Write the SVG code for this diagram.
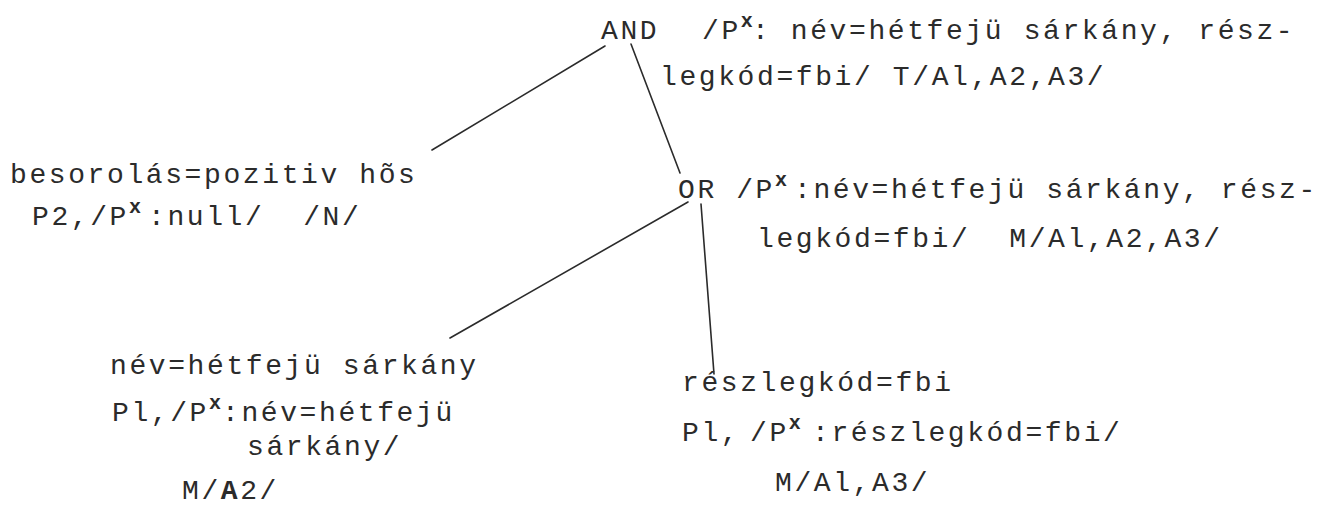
<svg xmlns="http://www.w3.org/2000/svg" width="1333" height="511" viewBox="0 0 1333 511">
  <style>
    text { font-family: "Liberation Mono", "DejaVu Sans Mono", monospace; font-size: 28px; letter-spacing: 2.6px; fill: #2b2b2b; white-space: pre; }
    .sup { font-size: 20px; font-weight: bold; letter-spacing: 0; }
    .b { font-weight: bold; }
    .edge { stroke: #2b2b2b; stroke-width: 1.6; stroke-linecap: round; fill: none; }
  </style>
  <rect width="1333" height="511" fill="#ffffff"/>

  <!-- tree edges -->
  <g id="connectors">
    <line class="edge" x1="605" y1="46" x2="432" y2="150"/>
    <line class="edge" x1="631" y1="44" x2="680" y2="173"/>
    <line class="edge" x1="688" y1="202" x2="450" y2="338"/>
    <line class="edge" x1="701" y1="204" x2="714" y2="374"/>
  </g>

  <!-- root: AND -->
  <g id="node-and">
    <text x="601" y="39">AND</text>
    <text x="702" y="39">/P<tspan class="sup" dy="-12">x</tspan><tspan x="752" dy="12">: név=hétfejü sárkány, rész-</tspan></text>
    <text x="660" y="85">legkód=fbi/ T/Al,A2,A3/</text>
  </g>

  <!-- leaf: besorolás -->
  <g id="node-besorolas">
    <text x="10" y="183">besorolás=pozitiv hõs</text>
    <text x="32" y="225">P2,/P<tspan class="sup" dy="-12">x</tspan><tspan x="148" dy="12">:null/  /N/</tspan></text>
  </g>

  <!-- inner node: OR -->
  <g id="node-or">
    <text x="678" y="198">OR /P<tspan class="sup" dy="-12">x</tspan><tspan x="794" dy="12">:név=hétfejü sárkány, rész-</tspan></text>
    <text x="757" y="247">legkód=fbi/  M/Al,A2,A3/</text>
  </g>

  <!-- leaf: név -->
  <g id="node-nev">
    <text x="110" y="374">név=hétfejü sárkány</text>
    <text x="112" y="421">Pl,/P<tspan class="sup" dy="-12">x</tspan><tspan x="222" dy="12">:név=hétfejü</tspan></text>
    <text x="247" y="455">sárkány/</text>
    <text x="182" y="499">M/<tspan class="b">A</tspan>2/</text>
  </g>

  <!-- leaf: részlegkód -->
  <g id="node-reszlegkod">
    <text x="682" y="391">részlegkód=fbi</text>
    <text x="682" y="441">Pl,<tspan x="750">/P</tspan><tspan class="sup" dy="-12">x</tspan><tspan x="812" dy="12">:részlegkód=fbi/</tspan></text>
    <text x="775" y="491">M/Al,A3/</text>
  </g>
</svg>
